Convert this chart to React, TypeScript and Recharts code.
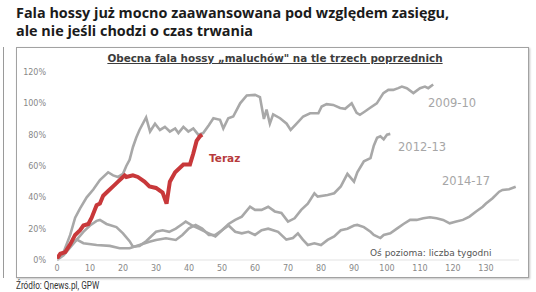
import { LineChart, Line, XAxis, YAxis } from 'recharts'

// weeks since start of the bull wave / cumulative gain in %
const weeks0910 = [0, 2, 4, 5.5, 7, 9, 11, 13, 15.5, 17, 18.5, 20, 21, 22, 23, 24, 25, 27, 28.2, 29.7, 31.2, 32.7, 34.2, 35.8, 36.8, 38.3, 39.8, 41.3, 42.8, 44.3, 46, 47.4, 49.4, 50.4, 51.9, 53.4, 55.5, 57.5, 60, 61.5, 62.7, 63.5, 64.5, 65.5, 67.6, 69.6, 70.8, 72.6, 74.6, 76.7, 79.2, 80.2, 81.7, 83.7, 85.8, 87.3, 89.3, 90.8, 91.8, 93.3, 94.8, 96.9, 98.9, 100.4, 101.9, 103.4, 104.5, 106, 108, 110, 111.5, 112.5, 114]
const gain0910 = [0, 5, 16, 27, 33, 40, 45, 51, 56, 54, 53, 55, 60, 64, 72, 78, 83, 91, 82, 87, 83, 85, 82, 84, 81, 85, 82, 84, 80, 81, 86, 90.5, 89.5, 84, 90.5, 91.6, 100, 105, 105.4, 104, 90, 96, 87, 93, 90.5, 87, 83, 87, 91.6, 93.7, 93.7, 98, 99.5, 99, 97, 96.5, 100, 94, 92.7, 94.8, 97, 100, 106.5, 108.6, 108.6, 109.7, 110.7, 109.7, 106.5, 109.7, 110.7, 109.7, 112]

const weeks1213 = [0, 2, 4, 6, 8, 10, 12, 13, 15, 18, 20, 22, 23, 25, 27, 30, 32, 34, 36, 38, 39, 41, 43, 45, 48, 50, 52, 54, 56, 58.5, 60, 62, 64, 66, 68, 70, 72, 74, 76, 78, 79, 82, 84, 86, 88, 90, 91, 93, 95, 96, 97, 98, 99, 100, 101]
const gain1213 = [0, 3, 8, 13, 18, 22, 25, 25.6, 23, 21, 17, 12, 8.5, 9, 12, 18, 19, 18, 20, 23, 24.5, 22, 20, 18, 15, 19, 23, 25.6, 27.7, 34, 32, 32, 34, 31, 30, 24.5, 26.6, 32, 36, 42.6, 40.5, 41.5, 42.6, 47, 55, 50, 56, 63, 65, 73, 78, 79, 77, 80, 80.5]

const weeks1417 = [0, 2, 4, 6, 8, 12, 16, 19, 22, 25, 28, 30, 33, 36, 38, 40, 42, 44, 46, 48, 50, 52, 54, 56, 58, 60, 62, 64, 67, 69.5, 71.5, 73, 74.5, 76, 78, 80, 82, 84, 86, 88, 90, 91, 93, 95, 96, 98, 99, 101, 103, 105, 107, 109, 111, 113, 115, 117, 118, 119, 121, 123, 125, 127, 129, 130, 132, 134, 135, 137, 139]
const gain1417 = [0, 4, 9, 13, 10.7, 9.6, 9, 7.5, 7.5, 9.6, 11.7, 12.8, 13.9, 12.8, 16, 20.2, 22.4, 20, 16, 16, 19, 22, 18, 17, 18, 16, 19, 20, 18, 13, 14, 17, 13, 9.6, 10.7, 9.6, 12.8, 15, 19, 20, 22, 22.4, 21, 18, 16, 14, 16, 17, 20, 23, 25.6, 25.6, 26.6, 27.3, 26.6, 25.6, 24.5, 23.4, 24.5, 25.6, 27.7, 31, 34, 36, 39.4, 43.6, 44.7, 45.2, 46.8]

const weeksNow = [0, 1, 2.5, 4, 5.5, 7, 8, 9.5, 10.5, 12, 13, 14, 15.5, 17, 18.5, 19.5, 20.5, 21, 23, 24.5, 26.5, 28, 30, 32, 33.2, 34.2, 35.8, 38.3, 40.3, 41.3, 42.3, 43.3, 44]
const gainNow = [1, 4, 5, 10, 16, 19, 22, 23, 27, 35, 36, 41, 44, 47, 50, 52, 54, 53, 54, 53, 50, 47, 46, 43, 36, 50, 56, 61, 61, 68, 76, 79, 80]

const xTicks = [0, 10, 20, 30, 40, 50, 60, 70, 80, 90, 100, 110, 120, 130]
const yTicks = [0, 20, 40, 60, 80, 100, 120]

const toRows = (w: number[], v: number[]) => w.map((x, i) => ({ w: x, v: v[i] }))

const GRAY = '#a8a8a8'
const RED = '#c8383a'
const chartFont = 'DejaVu Sans, Verdana, sans-serif'

export default function App() {
  const s0910 = toRows(weeks0910, gain0910)
  const s1213 = toRows(weeks1213, gain1213)
  const s1417 = toRows(weeks1417, gain1417)
  const now = toRows(weeksNow, gainNow)

  return (
    <div style={{ position: 'absolute', left: 0, top: 0, width: 536, height: 292, background: '#fff', overflow: 'hidden' }}>
      <div style={{ position: 'absolute', left: 16, top: 4, fontFamily: 'Open Sans, sans-serif', fontWeight: 700, fontSize: 14.4, lineHeight: '18px', color: '#1b1b1b', whiteSpace: 'nowrap' }}>
        Fala hossy już mocno zaawansowana pod względem zasięgu,<br />ale nie jeśli chodzi o czas trwania
      </div>
      <div style={{ position: 'absolute', left: 3, top: 47, width: 1, height: 231, background: '#9a9a9a' }} />
      <div style={{ position: 'absolute', left: 16, top: 47, width: 511, height: 229, border: '1px solid #a2a2a2', boxShadow: '1px 1px 2px rgba(0,0,0,0.25)' }} />
      <div style={{ position: 'absolute', left: 0, top: 52, width: 550, textAlign: 'center', fontFamily: chartFont, fontWeight: 700, fontSize: 10.4, color: '#3c3c3c', textDecoration: 'underline', whiteSpace: 'nowrap' }}>
        Obecna fala hossy „maluchów" na tle trzech poprzednich
      </div>

      <div style={{ position: 'absolute', left: 0, top: 0 }}>
        <LineChart width={536} height={292} margin={{ top: 72, right: 17, bottom: 12, left: 0 }}>
          <XAxis
            type="number"
            dataKey="w"
            domain={[0, 140]}
            ticks={xTicks}
            allowDataOverflow
            height={20}
            tickLine={false}
            tickSize={0}
            tickMargin={5}
            axisLine={{ stroke: '#e3e3e3' }}
            tick={{ fontSize: 8, fill: '#888', fontFamily: chartFont }}
          />
          <YAxis
            type="number"
            domain={[0, 120]}
            ticks={yTicks}
            width={57}
            axisLine={false}
            tickLine={false}
            tickSize={0}
            tickMargin={11}
            tickFormatter={v => `${v}%`}
            tick={{ fontSize: 8, fill: '#888', fontFamily: chartFont }}
          />
          <Line data={s1213} dataKey="v" type="linear" stroke={GRAY} strokeWidth={2.6} dot={false} isAnimationActive={false} />
          <Line data={s1417} dataKey="v" type="linear" stroke={GRAY} strokeWidth={2.6} dot={false} isAnimationActive={false} />
          <Line data={s0910} dataKey="v" type="linear" stroke={GRAY} strokeWidth={2.6} dot={false} isAnimationActive={false} />
          <Line data={now} dataKey="v" type="linear" stroke={RED} strokeWidth={4} dot={false} isAnimationActive={false} />
        </LineChart>
      </div>

      <div style={{ position: 'absolute', left: 209, top: 152, fontFamily: chartFont, fontWeight: 700, fontSize: 10.5, color: '#b73a3c' }}>Teraz</div>
      <div style={{ position: 'absolute', left: 428, top: 96, fontFamily: chartFont, fontSize: 11.5, color: '#a6a6a6' }}>2009-10</div>
      <div style={{ position: 'absolute', left: 398, top: 140, fontFamily: chartFont, fontSize: 11.5, color: '#a6a6a6' }}>2012-13</div>
      <div style={{ position: 'absolute', left: 442, top: 174, fontFamily: chartFont, fontSize: 11.5, color: '#a6a6a6' }}>2014-17</div>
      <div style={{ position: 'absolute', left: 370, top: 248, fontFamily: chartFont, fontSize: 9, color: '#555', whiteSpace: 'nowrap' }}>Oś pozioma: liczba tygodni</div>

      <div style={{ position: 'absolute', left: 16, top: 280, fontFamily: 'Roboto, sans-serif', fontSize: 10, color: '#333', whiteSpace: 'nowrap', transform: 'scaleX(0.82)', transformOrigin: 'left center' }}>
        Źródło: Qnews.pl, GPW
      </div>
    </div>
  )
}
